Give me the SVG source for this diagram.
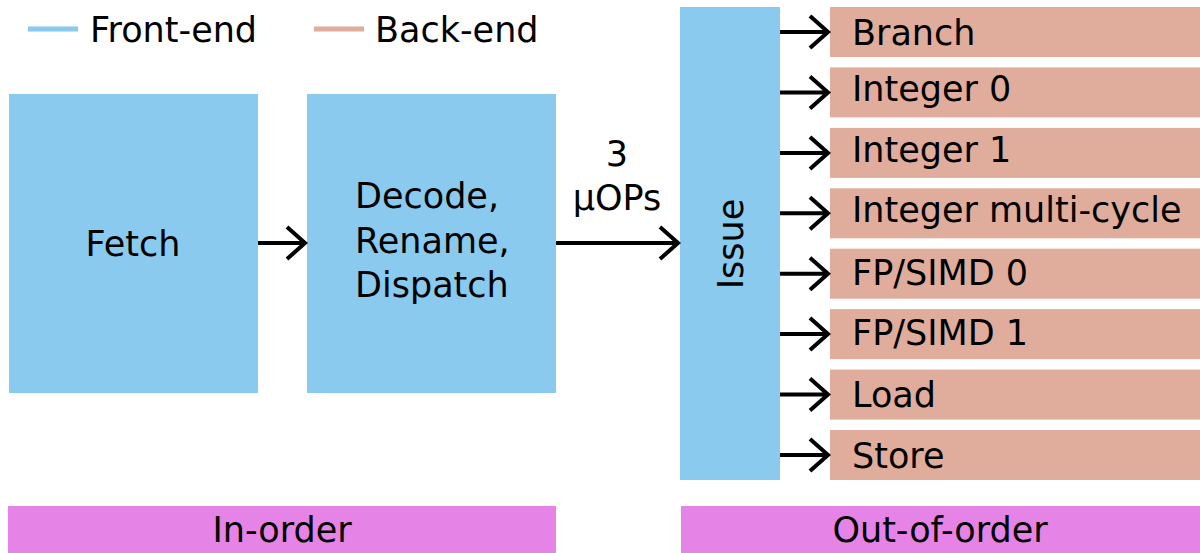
<svg xmlns="http://www.w3.org/2000/svg" width="1200" height="553" viewBox="0 0 1200 553">
<style>
text{font-family:"DejaVu Sans",sans-serif;font-size:35px;fill:#000}
.fe{fill:#89CAEE}
.be{fill:#E0AD9C}
.ord{fill:#E683E6}
.arr{fill:none;stroke:#000;stroke-width:4}
.c{text-anchor:middle}
</style>
<rect width="1200" height="553" fill="#fff"/>
<g id="legend">
<line x1="28" y1="29" x2="78" y2="29" stroke="#89CAEE" stroke-width="5"/>
<text x="90" y="41.5">Front-end</text>
<line x1="314" y1="29" x2="364" y2="29" stroke="#E0AD9C" stroke-width="5"/>
<text x="375" y="41.5">Back-end</text>
</g>
<g id="fetch"><rect class="fe" x="9" y="94" width="249" height="299"/><text class="c" x="133" y="255.5">Fetch</text></g>
<g id="decode"><rect class="fe" x="307" y="94" width="249" height="299"/>
<text x="355" y="208">Decode,</text><text x="355" y="253">Rename,</text><text x="355" y="297">Dispatch</text></g>
<g id="uops-label"><text class="c" x="617" y="166">3</text><text class="c" x="617" y="210">µOPs</text></g>
<g id="issue"><rect class="fe" x="680" y="7" width="100" height="473"/><text class="c" transform="translate(742.5,244) rotate(-90)">Issue</text></g>
<g id="branch"><rect class="be" x="830" y="7" width="370" height="50"/><text x="852" y="44.5">Branch</text></g>
<g id="int0"><rect class="be" x="830" y="67.4" width="370" height="50"/><text x="852" y="101">Integer 0</text></g>
<g id="int1"><rect class="be" x="830" y="127.9" width="370" height="50"/><text x="852" y="161.5">Integer 1</text></g>
<g id="intmc"><rect class="be" x="830" y="188.3" width="370" height="50"/><text x="852" y="222">Integer multi-cycle</text></g>
<g id="fp0"><rect class="be" x="830" y="248.7" width="370" height="50"/><text x="852" y="284.6">FP/SIMD 0</text></g>
<g id="fp1"><rect class="be" x="830" y="309.1" width="370" height="50"/><text x="852" y="345">FP/SIMD 1</text></g>
<g id="load"><rect class="be" x="830" y="369.6" width="370" height="50"/><text x="852" y="407">Load</text></g>
<g id="store"><rect class="be" x="830" y="430" width="370" height="50"/><text x="852" y="467.5">Store</text></g>
<g id="inorder"><rect class="ord" x="8" y="506" width="548" height="47"/><text class="c" x="282" y="542">In-order</text></g>
<g id="ooo"><rect class="ord" x="681" y="506" width="519" height="47"/><text class="c" x="940" y="542">Out-of-order</text></g>
<g id="connectors">
<path class="arr" d="M258 243H305M287 227L305 243L287 259"/>
<path class="arr" d="M556 243H678M660 227L678 243L660 259"/>
<path class="arr" d="M780 32H828M810 16L828 32L810 48"/>
<path class="arr" d="M780 92.4H828M810 76.4L828 92.4L810 108.4"/>
<path class="arr" d="M780 152.9H828M810 136.9L828 152.9L810 168.9"/>
<path class="arr" d="M780 213.3H828M810 197.3L828 213.3L810 229.3"/>
<path class="arr" d="M780 273.7H828M810 257.7L828 273.7L810 289.7"/>
<path class="arr" d="M780 334.1H828M810 318.1L828 334.1L810 350.1"/>
<path class="arr" d="M780 394.6H828M810 378.6L828 394.6L810 410.6"/>
<path class="arr" d="M780 455H828M810 439L828 455L810 471"/>
</g>
</svg>
